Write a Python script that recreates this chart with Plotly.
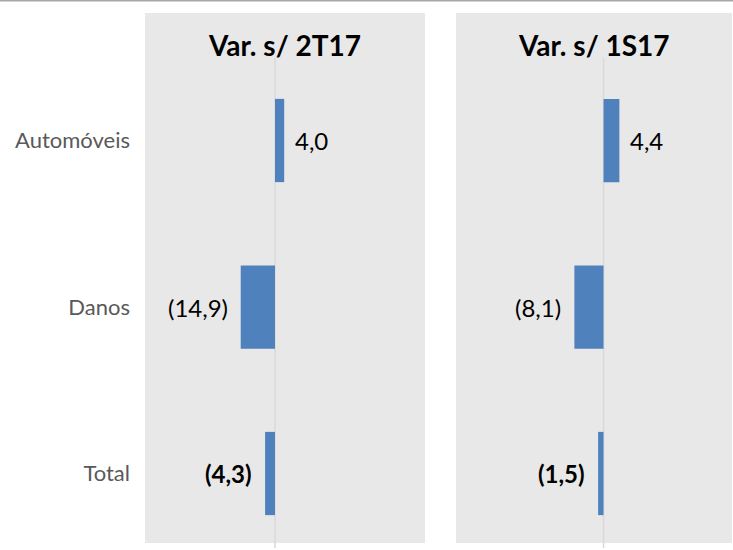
import plotly.graph_objects as go

categorias = ['Automóveis', 'Danos', 'Total']
var_2t17 = [4.0, -14.9, -4.3]
var_1s17 = [4.4, -8.1, -1.5]
titulos = ['Var. s/ 2T17', 'Var. s/ 1S17']

FONT = 'Lato'
AZUL = '#4f81bd'


def rotulo(v, negrito=False):
    # formato pt: virgula decimal, negativos entre parenteses
    s = f'{abs(v):.1f}'.replace('.', ',')
    if v < 0:
        s = f'({s})'
    return f'<b>{s}</b>' if negrito else s


dominios = [[0, 0.477], [0.5298, 1]]

fig = go.Figure()
# fundos cinzentos dos paineis (primeiro, para ficarem por baixo)
for d in dominios:
    fig.add_shape(type='rect', xref='paper', yref='paper', x0=d[0], x1=d[1], y0=0, y1=1,
                  fillcolor='#e8e8e8', line=dict(width=0), layer='below')

anots = []
for i, (serie, xa) in enumerate([(var_2t17, 'x'), (var_1s17, 'x2')]):
    fig.add_trace(go.Bar(x=serie, y=categorias, orientation='h',
                         marker=dict(color=AZUL, line=dict(width=0)),
                         xaxis=xa, yaxis='y', width=0.5, showlegend=False,
                         hoverinfo='skip'))
    for cat, v in zip(categorias, serie):
        anots.append(dict(x=v, y=cat, xref=xa, yref='y', text=rotulo(v, cat == 'Total'),
                          showarrow=False, xanchor='left' if v >= 0 else 'right',
                          xshift=9 if v >= 0 else -11,
                          font=dict(family=FONT, size=24, color='#000000')))
    # linha do zero
    fig.add_shape(type='line', xref=xa, yref='paper', x0=0, x1=0,
                  y0=-0.0094, y1=0.915, line=dict(color='#d9d9d9', width=1.5), layer='below')
    anots.append(dict(x=sum(dominios[i]) / 2, y=0.9396, xref='paper', yref='paper',
                      xanchor='center', yanchor='middle',
                      text=f'<b>{titulos[i]}</b>', showarrow=False,
                      font=dict(family=FONT, size=28, color='#000000')))

# linha cinzenta no topo
fig.add_shape(type='line', xref='paper', yref='paper', x0=-0.3, x1=1.1,
              y0=1.0236, y1=1.0236, line=dict(color='#a6a6a6', width=2))

fig.update_layout(
    width=733, height=550,
    margin=dict(l=145, r=1, t=13, b=7),
    paper_bgcolor='white', plot_bgcolor='white',
    annotations=anots,
    bargap=0.5,
    xaxis=dict(domain=dominios[0], range=[-56.5, 65.2], visible=False, fixedrange=True),
    xaxis2=dict(domain=dominios[1], range=[-41, 35.7], visible=False, fixedrange=True),
    yaxis=dict(categoryorder='array', categoryarray=categorias,
               range=[2.4174, -0.7658], showgrid=False, zeroline=False,
               showline=False, ticks='', ticklabelstandoff=14,
               tickfont=dict(family=FONT, size=22, color='#595959')),
)

fig.write_html('out.html', config={'displayModeBar': False},
               post_script="document.body.style.margin='0';")
